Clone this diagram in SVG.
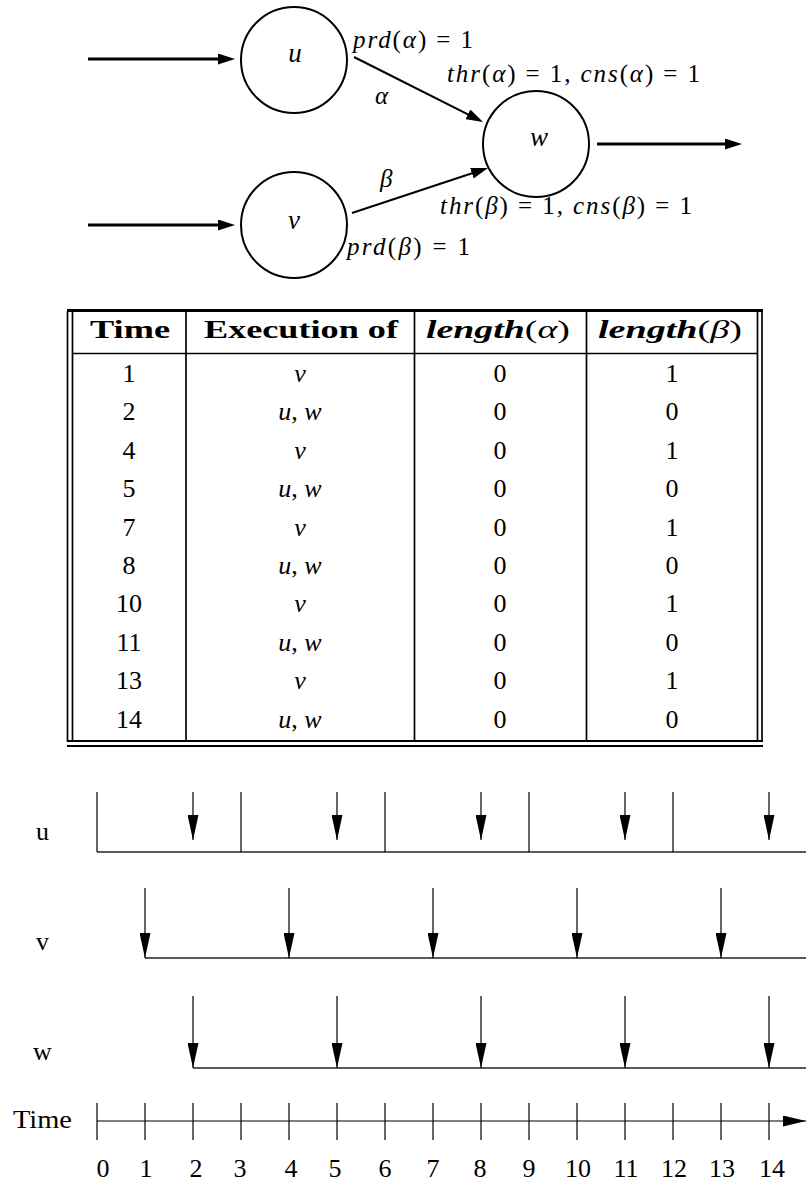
<svg xmlns="http://www.w3.org/2000/svg" width="806" height="1181" viewBox="0 0 806 1181">
<style>
.bg{fill:#fff}
.node{fill:none;stroke:#000;stroke-width:2}
.edge{fill:none;stroke:#000;stroke-width:2}
.thick{fill:none;stroke:#000;stroke-width:3}
.m{font-family:"Liberation Serif",serif;font-size:25px;fill:#000}
.nl{font-family:"Liberation Serif",serif;font-size:27px;font-style:italic;fill:#000;text-anchor:middle}
.i{font-style:italic}
.hd{font-family:"Liberation Serif",serif;font-size:26px;font-weight:bold;fill:#000}
.cell{font-family:"Liberation Serif",serif;font-size:26px;fill:#000;text-anchor:middle}
.rule{stroke:#000;stroke-width:2;fill:none}
.sep{stroke:#000;stroke-width:1.7;fill:none}
.tl{stroke:#000;stroke-width:1.2;fill:none}
.base{stroke:#222;stroke-width:1.6;fill:none}
.tt{font-family:"Liberation Serif",serif;font-size:26px;fill:#000}
</style>
<defs>
<marker id="ah" markerUnits="userSpaceOnUse" markerWidth="17" markerHeight="11" refX="9" refY="5.5" orient="auto"><path d="M0,0 L17,5.5 L0,11 z" fill="#000"/></marker>
<marker id="ta" markerUnits="userSpaceOnUse" markerWidth="25" markerHeight="11" refX="25" refY="5.5" orient="auto"><path d="M0,0 L25,5.5 L0,11 z" fill="#000"/></marker>
<marker id="xa" markerUnits="userSpaceOnUse" markerWidth="23" markerHeight="11" refX="23" refY="5.5" orient="auto"><path d="M0,0 L23,5.5 L0,11 z" fill="#000"/></marker>
</defs>
<rect class="bg" x="0" y="0" width="806" height="1181"/>

<!-- Graph nodes -->
<g id="node-u"><circle class="node" cx="294" cy="60" r="53"/><text class="nl" x="295" y="62">u</text></g>
<g id="node-v"><circle class="node" cx="294" cy="225" r="53"/><text class="nl" x="294" y="229">v</text></g>
<g id="node-w"><circle class="node" cx="536" cy="144" r="53"/><text class="nl" x="539" y="146">w</text></g>

<!-- Graph connectors -->
<g id="connectors">
<line class="thick" x1="88" y1="59" x2="227" y2="59" marker-end="url(#ah)"/>
<line class="thick" x1="88" y1="225" x2="227" y2="225" marker-end="url(#ah)"/>
<line class="edge" x1="354" y1="57" x2="475.9" y2="118.4" marker-end="url(#ah)"/>
<line class="edge" x1="352" y1="213" x2="480.4" y2="170.5" marker-end="url(#ah)"/>
<line class="thick" x1="597" y1="144" x2="734" y2="144" marker-end="url(#ah)"/>
</g>

<!-- Graph labels -->
<g id="graph-labels">
<text class="m" x="353" y="48" textLength="120" lengthAdjust="spacing"><tspan class="i">prd</tspan>(<tspan class="i">α</tspan>) = 1</text>
<text class="m" x="447" y="82" textLength="253" lengthAdjust="spacing"><tspan class="i">thr</tspan>(<tspan class="i">α</tspan>) = 1, <tspan class="i">cns</tspan>(<tspan class="i">α</tspan>) = 1</text>
<text class="m i" x="375" y="104" font-size="27">α</text>
<text class="m i" x="380" y="187" font-size="27">β</text>
<text class="m" x="440" y="214" textLength="252" lengthAdjust="spacing"><tspan class="i">thr</tspan>(<tspan class="i">β</tspan>) = 1, <tspan class="i">cns</tspan>(<tspan class="i">β</tspan>) = 1</text>
<text class="m" x="347" y="255" textLength="123" lengthAdjust="spacing"><tspan class="i">prd</tspan>(<tspan class="i">β</tspan>) = 1</text>
</g>

<!-- Table -->
<g id="table">
<rect x="67" y="309" width="696" height="3" fill="#000"/>
<line class="rule" x1="67" y1="741" x2="763" y2="741"/>
<line class="rule" x1="67" y1="746" x2="763" y2="746"/>
<line class="sep" x1="67.5" y1="311" x2="67.5" y2="742"/>
<line class="sep" x1="72.5" y1="311" x2="72.5" y2="742"/>
<line class="sep" x1="757.5" y1="311" x2="757.5" y2="742"/>
<line class="sep" x1="762" y1="311" x2="762" y2="742"/>
<line class="sep" x1="186" y1="311" x2="186" y2="742"/>
<line class="sep" x1="414.5" y1="311" x2="414.5" y2="742"/>
<line class="sep" x1="586.5" y1="311" x2="586.5" y2="742"/>
<line class="sep" x1="72" y1="353.5" x2="758" y2="353.5"/>
<text class="hd" x="90" y="338" textLength="80" lengthAdjust="spacingAndGlyphs">Time</text>
<text class="hd" x="204" y="338" textLength="194" lengthAdjust="spacingAndGlyphs">Execution of</text>
<text class="hd" x="426" y="338" textLength="144" lengthAdjust="spacingAndGlyphs"><tspan font-style="italic">length</tspan><tspan font-weight="normal">(<tspan font-style="italic">α</tspan>)</tspan></text>
<text class="hd" x="598" y="338" textLength="144" lengthAdjust="spacingAndGlyphs"><tspan font-style="italic">length</tspan><tspan font-weight="normal">(<tspan font-style="italic">β</tspan>)</tspan></text>

<text class="cell" x="129" y="382">1</text><text class="cell i" x="300" y="382">v</text><text class="cell" x="500" y="382">0</text><text class="cell" x="672" y="382">1</text>
<text class="cell" x="129" y="420">2</text><text class="cell" x="300" y="420"><tspan class="i">u</tspan>, <tspan class="i">w</tspan></text><text class="cell" x="500" y="420">0</text><text class="cell" x="672" y="420">0</text>
<text class="cell" x="129" y="459">4</text><text class="cell i" x="300" y="459">v</text><text class="cell" x="500" y="459">0</text><text class="cell" x="672" y="459">1</text>
<text class="cell" x="129" y="497">5</text><text class="cell" x="300" y="497"><tspan class="i">u</tspan>, <tspan class="i">w</tspan></text><text class="cell" x="500" y="497">0</text><text class="cell" x="672" y="497">0</text>
<text class="cell" x="129" y="536">7</text><text class="cell i" x="300" y="536">v</text><text class="cell" x="500" y="536">0</text><text class="cell" x="672" y="536">1</text>
<text class="cell" x="129" y="574">8</text><text class="cell" x="300" y="574"><tspan class="i">u</tspan>, <tspan class="i">w</tspan></text><text class="cell" x="500" y="574">0</text><text class="cell" x="672" y="574">0</text>
<text class="cell" x="129" y="612">10</text><text class="cell i" x="300" y="612">v</text><text class="cell" x="500" y="612">0</text><text class="cell" x="672" y="612">1</text>
<text class="cell" x="129" y="651">11</text><text class="cell" x="300" y="651"><tspan class="i">u</tspan>, <tspan class="i">w</tspan></text><text class="cell" x="500" y="651">0</text><text class="cell" x="672" y="651">0</text>
<text class="cell" x="129" y="689">13</text><text class="cell i" x="300" y="689">v</text><text class="cell" x="500" y="689">0</text><text class="cell" x="672" y="689">1</text>
<text class="cell" x="129" y="728">14</text><text class="cell" x="300" y="728"><tspan class="i">u</tspan>, <tspan class="i">w</tspan></text><text class="cell" x="500" y="728">0</text><text class="cell" x="672" y="728">0</text>
</g>

<!-- Timeline -->
<g id="timeline-u">
<text class="tt" x="36" y="840">u</text>
<line class="base" x1="97" y1="852" x2="806" y2="852"/>
<line class="tl" x1="97" y1="792" x2="97" y2="852"/>
<line class="tl" x1="241" y1="792" x2="241" y2="852"/>
<line class="tl" x1="385" y1="792" x2="385" y2="852"/>
<line class="tl" x1="529" y1="792" x2="529" y2="852"/>
<line class="tl" x1="673" y1="792" x2="673" y2="852"/>
<line class="tl" x1="193" y1="792" x2="193" y2="840" marker-end="url(#ta)"/>
<line class="tl" x1="337" y1="792" x2="337" y2="840" marker-end="url(#ta)"/>
<line class="tl" x1="481" y1="792" x2="481" y2="840" marker-end="url(#ta)"/>
<line class="tl" x1="625" y1="792" x2="625" y2="840" marker-end="url(#ta)"/>
<line class="tl" x1="769" y1="792" x2="769" y2="840" marker-end="url(#ta)"/>
</g>
<g id="timeline-v">
<text class="tt" x="36" y="950">v</text>
<line class="base" x1="145" y1="958" x2="806" y2="958"/>
<line class="tl" x1="145" y1="888" x2="145" y2="958" marker-end="url(#ta)"/>
<line class="tl" x1="289" y1="888" x2="289" y2="958" marker-end="url(#ta)"/>
<line class="tl" x1="433" y1="888" x2="433" y2="958" marker-end="url(#ta)"/>
<line class="tl" x1="577" y1="888" x2="577" y2="958" marker-end="url(#ta)"/>
<line class="tl" x1="721" y1="888" x2="721" y2="958" marker-end="url(#ta)"/>
</g>
<g id="timeline-w">
<text class="tt" x="33" y="1060">w</text>
<line class="base" x1="193" y1="1068" x2="806" y2="1068"/>
<line class="tl" x1="193" y1="996" x2="193" y2="1068" marker-end="url(#ta)"/>
<line class="tl" x1="337" y1="996" x2="337" y2="1068" marker-end="url(#ta)"/>
<line class="tl" x1="481" y1="996" x2="481" y2="1068" marker-end="url(#ta)"/>
<line class="tl" x1="625" y1="996" x2="625" y2="1068" marker-end="url(#ta)"/>
<line class="tl" x1="769" y1="996" x2="769" y2="1068" marker-end="url(#ta)"/>
</g>
<g id="time-axis">
<text class="tt" x="13" y="1128" textLength="59" lengthAdjust="spacingAndGlyphs">Time</text>
<line class="tl" x1="97" y1="1121" x2="806" y2="1121" marker-end="url(#xa)"/>
<g class="tl">
<line x1="97" y1="1103" x2="97" y2="1140"/><line x1="145" y1="1103" x2="145" y2="1140"/><line x1="193" y1="1103" x2="193" y2="1140"/><line x1="241" y1="1103" x2="241" y2="1140"/><line x1="289" y1="1103" x2="289" y2="1140"/><line x1="337" y1="1103" x2="337" y2="1140"/><line x1="385" y1="1103" x2="385" y2="1140"/><line x1="433" y1="1103" x2="433" y2="1140"/><line x1="481" y1="1103" x2="481" y2="1140"/><line x1="529" y1="1103" x2="529" y2="1140"/><line x1="577" y1="1103" x2="577" y2="1140"/><line x1="625" y1="1103" x2="625" y2="1140"/><line x1="673" y1="1103" x2="673" y2="1140"/><line x1="721" y1="1103" x2="721" y2="1140"/><line x1="769" y1="1103" x2="769" y2="1140"/>
</g>
<g class="tt" text-anchor="middle">
<text x="103" y="1177">0</text><text x="146" y="1177">1</text><text x="196" y="1177">2</text><text x="240" y="1177">3</text><text x="291" y="1177">4</text><text x="335" y="1177">5</text><text x="385" y="1177">6</text><text x="433" y="1177">7</text><text x="480" y="1177">8</text><text x="529" y="1177">9</text><text x="578" y="1177">10</text><text x="626" y="1177">11</text><text x="674" y="1177">12</text><text x="722" y="1177">13</text><text x="772" y="1177">14</text>
</g>
</g>
</svg>
